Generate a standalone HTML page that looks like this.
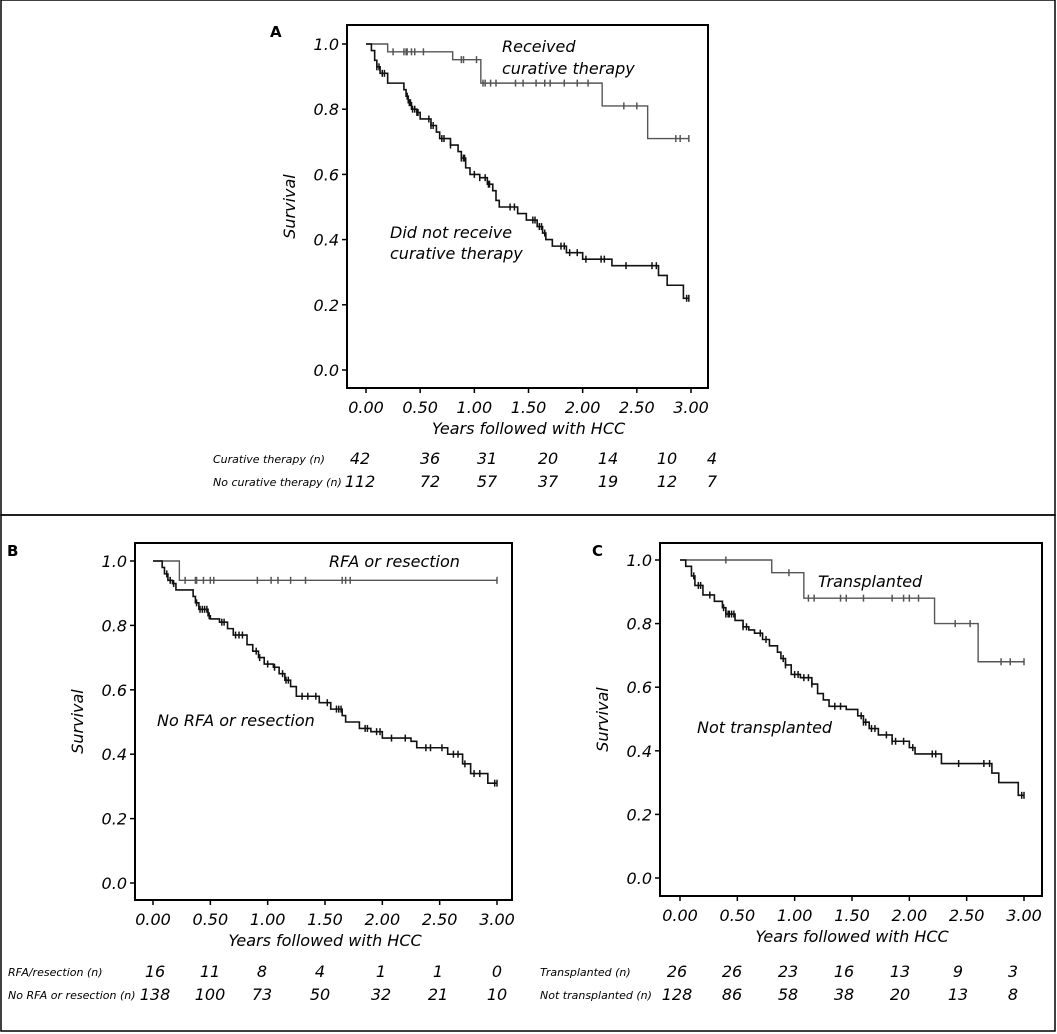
<!DOCTYPE html>
<html><head><meta charset="utf-8"><style>
html,body{margin:0;padding:0;background:#fff;}
svg{display:block;font-family:"DejaVu Sans","Liberation Sans",sans-serif;font-style:italic;}
</style></head><body>
<svg id="fig" width="1057" height="1034" viewBox="0 0 1057 1034">
<rect x="1" y="0" width="1054" height="515" fill="none" stroke="#000" stroke-width="1.5"/>
<rect x="1" y="515" width="1054" height="516" fill="none" stroke="#000" stroke-width="1.5"/>
</svg>
<script>
const xTicks=[0,0.5,1,1.5,2,2.5,3];
const xTickLabels=["0.00","0.50","1.00","1.50","2.00","2.50","3.00"];
const yTicks=[0,0.2,0.4,0.6,0.8,1.0];
const yTickLabels=["0.0","0.2","0.4","0.6","0.8","1.0"];

const aCurTimes=[0.2,0.8,1.06,2.18,2.6];
const aCurSurv=[0.976,0.952,0.88,0.81,0.71];
const aCurCens=[0.25,0.35,0.37,0.38,0.42,0.45,0.53,0.88,0.9,1.02,1.08,1.1,1.15,1.2,1.38,1.45,1.57,1.65,1.7,1.83,1.95,2.05,2.38,2.5,2.86,2.9,2.98];
const aNoTimes=[0.05,0.08,0.1,0.13,0.2,0.35,0.37,0.39,0.42,0.47,0.5,0.6,0.65,0.68,0.78,0.85,0.88,0.92,0.96,1.05,1.12,1.17,1.2,1.23,1.4,1.48,1.58,1.63,1.66,1.72,1.85,2.0,2.27,2.7,2.78,2.93];
const aNoSurv=[0.98,0.95,0.93,0.91,0.88,0.86,0.84,0.82,0.80,0.79,0.77,0.75,0.73,0.71,0.69,0.67,0.65,0.62,0.60,0.59,0.57,0.55,0.52,0.50,0.48,0.46,0.44,0.42,0.40,0.38,0.36,0.34,0.32,0.29,0.26,0.22];
const aNoCens=[0.1,0.12,0.15,0.17,0.38,0.4,0.41,0.43,0.45,0.47,0.48,0.58,0.6,0.62,0.7,0.72,0.78,0.88,0.9,0.91,1.0,1.05,1.1,1.13,1.14,1.33,1.37,1.54,1.56,1.6,1.62,1.65,1.8,1.83,1.88,1.95,2.03,2.17,2.2,2.4,2.64,2.68,2.96,2.98];

const bRfaTimes=[0.23];
const bRfaSurv=[0.94];
const bRfaCens=[0.28,0.37,0.38,0.44,0.5,0.53,0.91,1.03,1.09,1.2,1.33,1.65,1.68,1.72,3.0];
const bNoTimes=[0.08,0.1,0.13,0.17,0.2,0.35,0.37,0.4,0.48,0.5,0.58,0.65,0.7,0.82,0.87,0.92,0.97,1.05,1.1,1.15,1.2,1.25,1.45,1.55,1.65,1.68,1.8,1.9,2.0,2.25,2.3,2.57,2.7,2.77,2.92];
const bNoSurv=[0.98,0.96,0.94,0.93,0.91,0.89,0.87,0.85,0.83,0.82,0.81,0.79,0.77,0.74,0.72,0.70,0.68,0.67,0.65,0.63,0.61,0.58,0.56,0.54,0.52,0.50,0.48,0.47,0.45,0.44,0.42,0.40,0.37,0.34,0.31];
const bNoCens=[0.12,0.15,0.18,0.38,0.41,0.43,0.45,0.47,0.49,0.6,0.62,0.72,0.75,0.78,0.9,0.93,1.0,1.06,1.13,1.16,1.18,1.3,1.35,1.42,1.52,1.6,1.62,1.64,1.85,1.87,1.95,1.98,2.08,2.2,2.38,2.42,2.52,2.62,2.66,2.72,2.8,2.85,2.98,3.0];

const cTxTimes=[0.8,1.08,2.22,2.6];
const cTxSurv=[0.96,0.88,0.80,0.68];
const cTxCens=[0.4,0.95,1.12,1.17,1.4,1.45,1.6,1.85,1.95,2.0,2.08,2.4,2.53,2.8,2.88,3.0];
const cNoTimes=[0.05,0.1,0.13,0.2,0.3,0.37,0.4,0.48,0.55,0.6,0.65,0.72,0.78,0.85,0.88,0.92,0.97,1.05,1.15,1.2,1.25,1.3,1.45,1.55,1.6,1.65,1.73,1.85,2.0,2.05,2.28,2.72,2.78,2.95];
const cNoSurv=[0.98,0.95,0.92,0.89,0.87,0.85,0.83,0.81,0.79,0.78,0.77,0.75,0.73,0.71,0.69,0.67,0.64,0.63,0.61,0.58,0.56,0.54,0.53,0.51,0.49,0.47,0.45,0.43,0.41,0.39,0.36,0.33,0.30,0.26];
const cNoCens=[0.12,0.16,0.18,0.26,0.38,0.4,0.42,0.43,0.45,0.47,0.55,0.58,0.7,0.75,0.9,0.92,1.0,1.03,1.08,1.12,1.15,1.35,1.4,1.58,1.6,1.62,1.67,1.7,1.8,1.85,1.88,1.95,2.03,2.2,2.23,2.43,2.65,2.7,2.98,3.0];

const aRiskCur=["42","36","31","20","14","10","4"];
const aRiskNo=["112","72","57","37","19","12","7"];
const bRiskRfa=["16","11","8","4","1","1","0"];
const bRiskNo=["138","100","73","50","32","21","10"];
const cRiskTx=["26","26","23","16","13","9","3"];
const cRiskNo=["128","86","58","38","20","13","8"];

const NS="http://www.w3.org/2000/svg";
const svg=document.getElementById('fig');
function mk(tag,attrs,parent){const e=document.createElementNS(NS,tag);for(const k in attrs)e.setAttribute(k,attrs[k]);(parent||svg).appendChild(e);return e;}
function txt(s,attrs,parent){const e=mk('text',attrs,parent);e.textContent=s;return e;}

function panel(p){
  const g=mk('g',{});
  
  
  const sx=v=>p.x0+(p.x3-p.x0)*v/3;
  const sy=v=>p.y0+(p.y1-p.y0)*v;
  const box=mk('rect',{x:p.bx,y:p.by,width:p.bw,height:p.bh,fill:'none',stroke:'#000','stroke-width':2},g);
  
  
  const lab=txt(p.letter,{x:p.lx,y:p.ly,'font-size':15,'font-style':'normal','font-weight':'bold'},g);
  
  
  yTicks.forEach((v,i)=>{
    mk('line',{x1:p.bx-5,x2:p.bx,y1:sy(v),y2:sy(v),stroke:'#000','stroke-width':1.5},g);
    const t=txt(yTickLabels[i],{x:p.bx-8,y:sy(v)+6,'font-size':16,'text-anchor':'end'},g);
    
    
  });
  xTicks.forEach((v,i)=>{
    mk('line',{x1:sx(v),x2:sx(v),y1:p.by+p.bh,y2:p.by+p.bh+5,stroke:'#000','stroke-width':1.5},g);
    const t=txt(xTickLabels[i],{x:sx(v),y:p.by+p.bh+25,'font-size':16,'text-anchor':'middle'},g);
    
    
  });
  const xt=txt('Years followed with HCC',{x:(sx(0)+sx(3))/2,y:p.by+p.bh+46,'font-size':16,'text-anchor':'middle'},g);
  
  
  const cy=(p.by+p.by+p.bh)/2;
  const yt=txt('Survival',{x:p.bx-52,y:cy,'font-size':16,'text-anchor':'middle',transform:`rotate(-90 ${p.bx-52} ${cy})`},g);
  
  
  p.series.forEach(s=>{
    let d=`M${sx(0)},${sy(1)}`;let cur=1;
    s.times.forEach((t,i)=>{d+=` H${sx(t)} V${sy(s.surv[i])}`;cur=s.surv[i];});
    d+=` H${sx(s.end)}`;
    const path=mk('path',{d:d,fill:'none',stroke:s.color,'stroke-width':s.w},g);
    
    
    s.cens.forEach(t=>{
      let v=1;s.times.forEach((tt,i)=>{if(tt<=t)v=s.surv[i];});
      const m=mk('path',{d:`M${sx(t)},${sy(v)-3.5}V${sy(v)+3.5}`,stroke:s.color,'stroke-width':1.5},g);
      
      
    });
    s.labels.forEach(l=>{
      const t=txt(l[0],{x:l[1],y:l[2],'font-size':16},g);
      
      
    });
  });
  p.risk.forEach((r,ri)=>{
    const y=p.ry+ri*23;
    const t=txt(r.label,{x:p.rlx,y:y,'font-size':11},g);
    
    
    r.vals.forEach((v,i)=>{
      const n=txt(v,{x:p.rcols[i],y:y+1,'font-size':16,'text-anchor':'middle'},g);
      
      
    });
  });
}

panel({id:'panel-a',letter:'A',lx:270,ly:37,bx:347,by:25,bw:361,bh:363,x0:366,x3:691,y0:370,y1:44,
  series:[
    {name:'curative',times:aCurTimes,surv:aCurSurv,cens:aCurCens,end:2.98,color:'#555',w:1.4,labels:[['Received',502,52],['curative therapy',502,74]]},
    {name:'no-curative',times:aNoTimes,surv:aNoSurv,cens:aNoCens,end:2.98,color:'#111',w:1.6,labels:[['Did not receive',390,238],['curative therapy',390,259]]}],
  rlx:213,ry:463,rcols:[360,430,487,548,608,667,712],
  risk:[{label:'Curative therapy (n)',vals:aRiskCur},{label:'No curative therapy (n)',vals:aRiskNo}]});

panel({id:'panel-b',letter:'B',lx:7,ly:556,bx:135,by:543,bw:377,bh:357,x0:153,x3:497,y0:883,y1:561,
  series:[
    {name:'rfa-resection',times:bRfaTimes,surv:bRfaSurv,cens:bRfaCens,end:3.0,color:'#555',w:1.4,labels:[['RFA or resection',329,567]]},
    {name:'no-rfa-resection',times:bNoTimes,surv:bNoSurv,cens:bNoCens,end:3.0,color:'#111',w:1.6,labels:[['No RFA or resection',157,726]]}],
  rlx:8,ry:976,rcols:[155,210,262,320,381,438,497],
  risk:[{label:'RFA/resection (n)',vals:bRiskRfa},{label:'No RFA or resection (n)',vals:bRiskNo}]});

panel({id:'panel-c',letter:'C',lx:592,ly:556,bx:660,by:543,bw:382,bh:353,x0:680,x3:1024,y0:878,y1:560,
  series:[
    {name:'transplanted',times:cTxTimes,surv:cTxSurv,cens:cTxCens,end:3.0,color:'#555',w:1.4,labels:[['Transplanted',818,587]]},
    {name:'not-transplanted',times:cNoTimes,surv:cNoSurv,cens:cNoCens,end:3.0,color:'#111',w:1.6,labels:[['Not transplanted',697,733]]}],
  rlx:540,ry:976,rcols:[677,732,788,844,900,958,1013],
  risk:[{label:'Transplanted (n)',vals:cRiskTx},{label:'Not transplanted (n)',vals:cRiskNo}]});
</script>
</body></html>
